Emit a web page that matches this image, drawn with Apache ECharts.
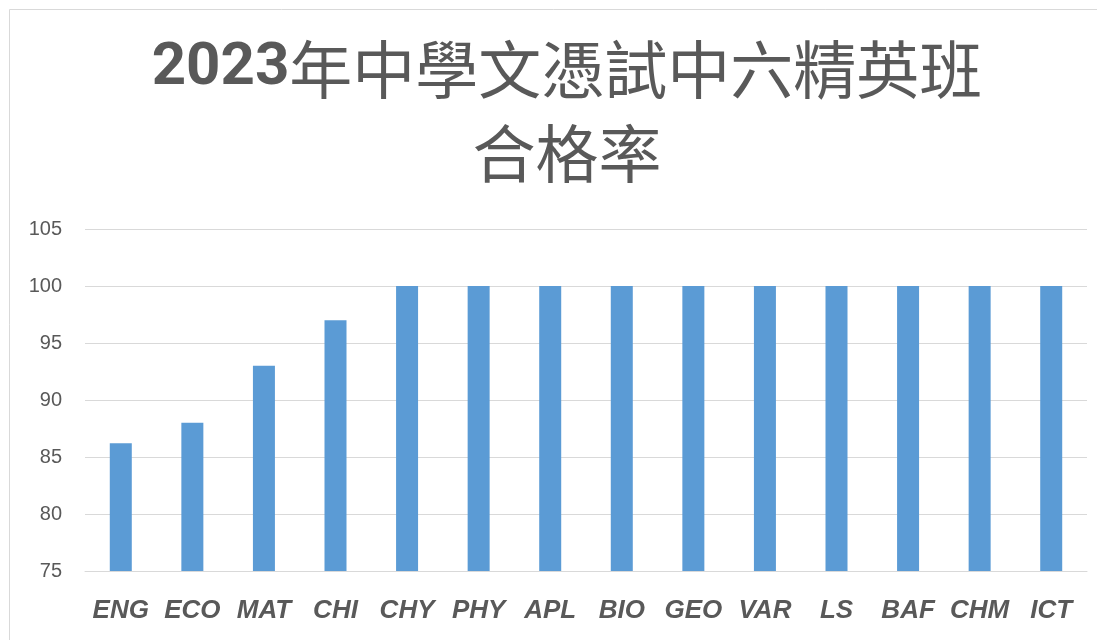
<!DOCTYPE html>
<html>
<head>
<meta charset="utf-8">
<script src="https://cdn.jsdelivr.net/npm/echarts@6/dist/echarts.min.js"></script>
<style>
html,body{margin:0;padding:0;background:#fff;}
#c{width:1106px;height:640px;}
</style>
</head>
<body>
<div id="c"></div>
<script>
const categories = ['ENG','ECO','MAT','CHI','CHY','PHY','APL','BIO','GEO','VAR','LS','BAF','CHM','ICT'];
const passRates = [86.2, 88, 93, 97, 100, 100, 100, 100, 100, 100, 100, 100, 100, 100];
const yTicks = [75, 80, 85, 90, 95, 100, 105];

const chart = echarts.init(document.getElementById('c'), null, {renderer:'canvas'});
chart.setOption({
  backgroundColor:'#fff',
  animation:false,
  graphic:[
    {type:'polyline', shape:{points:[[9.5,640],[9.5,9.5],[1097,9.5]]}, style:{stroke:'#d9d9d9', lineWidth:1, fill:null}, silent:true}
  ],
  title:{
    text:'{b|2023}{n|年中學文憑試中六精英班}\n{n|合格率}',
    left:562, top:22, textAlign:'center',
    textStyle:{
      rich:{
        b:{fontFamily:'Roboto', fontWeight:'bold', fontSize:60, color:'#595959', lineHeight:84},
        n:{fontFamily:'Noto Sans CJK TC', fontWeight:'normal', fontSize:63, color:'#595959', lineHeight:84}
      }
    }
  },
  grid:{left:85, right:19, top:229, bottom:69, containLabel:false},
  xAxis:{
    type:'category', data:categories,
    axisLine:{show:true, lineStyle:{color:'#d9d9d9', width:1}},
    axisTick:{show:false},
    axisLabel:{fontFamily:'Liberation Sans', fontStyle:'italic', fontWeight:'bold', fontSize:26, color:'#595959', margin:27, interval:0}
  },
  yAxis:{
    type:'value', min:yTicks[0], max:yTicks[yTicks.length-1], interval:5,
    axisLine:{show:false}, axisTick:{show:false},
    splitLine:{lineStyle:{color:'#d9d9d9', width:1}},
    axisLabel:{fontFamily:'Liberation Sans', fontSize:20, color:'#595959', margin:23}
  },
  series:[{
    type:'bar', data:passRates, barWidth:22,
    itemStyle:{color:'#5b9bd5'}
  }]
});
</script>
</body>
</html>
